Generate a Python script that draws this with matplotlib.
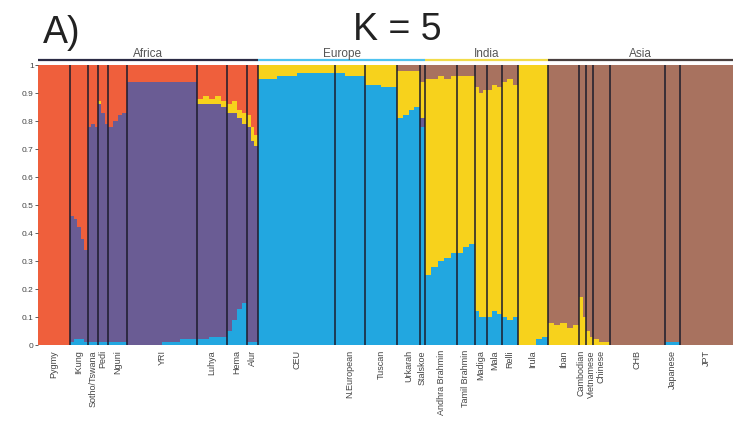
import numpy as np
import matplotlib
matplotlib.use('Agg')
import matplotlib.pyplot as plt

plt.rcParams['font.family'] = ['Liberation Sans', 'DejaVu Sans']

# regions and how many populations each one holds
regions = ['Africa', 'Europe', 'India', 'Asia']
region_npops = [9, 5, 6, 7]

pops = ['Pygmy', '!Kung', 'Sotho/Tswana', 'Pedi', 'Nguni', 'YRI', 'Luhya', 'Hema', 'Alur',
        'CEU', 'N.European', 'Tuscan', 'Urkarah', 'Stalskoe',
        'Andhra Brahmin', 'Tamil Brahmin', 'Madiga', 'Mala', 'Relli', 'Irula',
        'Iban', 'Cambodian', 'Vietnamese', 'Chinese', 'CHB', 'Japanese', 'JPT']
# sample sizes (relative width of each population block)
pop_n = [32, 18, 10, 10, 19, 70, 30, 20, 11,
         77, 30, 32, 23, 5,
         32, 18, 12, 15, 16, 30,
         31, 7, 7, 17, 55, 15, 53]
bars_per_pop = [4, 5, 3, 3, 4, 8, 5, 4, 3,
                8, 3, 4, 4, 1,
                5, 3, 3, 3, 3, 5,
                5, 2, 2, 3, 6, 2, 6]

# ancestry proportions per bar, stacked bottom to top: blue, purple, yellow, brown, orange
blue = [0, 0, 0, 0,
        .01, .02, .02, .02, .01,
        .01, .01, .01,
        .01, .01, .01,
        .01, .01, .01, .01,
        0, 0, 0, 0, .01, .01, .02, .02,
        .02, .02, .03, .03, .03,
        .05, .09, .13, .15,
        .01, .01, .01,
        .95, .95, .96, .96, .97, .97, .97, .97,
        .97, .96, .96,
        .93, .93, .92, .92,
        .81, .82, .84, .85,
        .78,
        .25, .28, .30, .31, .33,
        .33, .35, .36,
        .12, .10, .10,
        .10, .12, .11,
        .10, .09, .10,
        0, 0, 0, .02, .03,
        0, 0, 0, 0, 0,
        0, 0,
        0, 0,
        0, 0, 0,
        0, 0, 0, 0, 0, 0,
        .01, .01,
        0, 0, 0, 0, 0, 0]
purple = [0, 0, 0, 0,
          .45, .43, .40, .36, .33,
          .77, .78, .77,
          .85, .82, .78,
          .77, .79, .81, .82,
          .94, .94, .94, .94, .93, .93, .92, .92,
          .84, .84, .83, .83, .82,
          .78, .74, .68, .64,
          .77, .72, .70,
          0, 0, 0, 0, 0, 0, 0, 0,
          0, 0, 0,
          0, 0, 0, 0,
          0, 0, 0, 0,
          .03,
          0, 0, 0, 0, 0,
          0, 0, 0,
          0, 0, 0,
          0, 0, 0,
          0, 0, 0,
          0, 0, 0, 0, 0,
          0, 0, 0, 0, 0,
          0, 0,
          0, 0,
          0, 0, 0,
          0, 0, 0, 0, 0, 0,
          0, 0,
          0, 0, 0, 0, 0, 0]
yellow = [0, 0, 0, 0,
          0, 0, 0, 0, 0,
          0, 0, 0,
          .01, 0, 0,
          0, 0, 0, 0,
          0, 0, 0, 0, 0, 0, 0, 0,
          .02, .03, .02, .03, .02,
          .03, .04, .03, .04,
          .04, .05, .04,
          .05, .05, .04, .04, .03, .03, .03, .03,
          .03, .04, .04,
          .07, .07, .08, .08,
          .17, .16, .14, .13,
          .13,
          .70, .67, .66, .64, .63,
          .63, .61, .60,
          .80, .80, .81,
          .81, .81, .81,
          .84, .86, .83,
          1, 1, 1, .98, .97,
          .08, .07, .08, .06, .07,
          .17, .10,
          .05, .03,
          .02, .01, .01,
          0, 0, 0, 0, 0, 0,
          0, 0,
          0, 0, 0, 0, 0, 0]
brown = [0, 0, 0, 0,
         0, 0, 0, 0, 0,
         0, 0, 0,
         0, 0, 0,
         0, 0, 0, 0,
         0, 0, 0, 0, 0, 0, 0, 0,
         0, 0, 0, 0, 0,
         0, 0, 0, 0,
         0, 0, 0,
         0, 0, 0, 0, 0, 0, 0, 0,
         0, 0, 0,
         0, 0, 0, 0,
         .02, .02, .02, .02,
         .06,
         .05, .05, .04, .05, .04,
         .04, .04, .04,
         .08, .10, .09,
         .09, .07, .08,
         .06, .05, .07,
         0, 0, 0, 0, 0,
         .92, .93, .92, .94, .93,
         .83, .90,
         .95, .97,
         .98, .99, .99,
         1, 1, 1, 1, 1, 1,
         .99, .99,
         1, 1, 1, 1, 1, 1]

colors = ['#22a7e0', '#6a5c94', '#f7d21c', '#a8725f', '#ef5f3c']

blue = np.array(blue)
purple = np.array(purple)
yellow = np.array(yellow)
brown = np.array(brown)
# orange takes whatever is left of each bar
orange = np.clip(1 - (blue + purple + yellow + brown), 0, None)
layers = [blue, purple, yellow, brown, orange]

# bar positions from the sample sizes
lefts, widths, pop_edges = [], [], [0]
x = 0
for n, nb in zip(pop_n, bars_per_pop):
    w = n / nb
    for j in range(nb):
        lefts.append(x + j * w)
        widths.append(w)
    x += n
    pop_edges.append(x)
lefts = np.array(lefts)
widths = np.array(widths)
pop_edges = np.array(pop_edges)
total = pop_edges[-1]

fig = plt.figure(figsize=(7.37, 4.24), dpi=100)
ax = fig.add_axes([38 / 737, 79 / 424, 695 / 737, 280 / 424])

bottom = np.zeros(len(lefts))
for vals, c in zip(layers, colors):
    ax.bar(lefts, vals, width=widths, bottom=bottom, align='edge',
           color=c, linewidth=0)
    bottom += vals

ax.vlines(pop_edges[1:-1], 0, 1, color='#1c1c2c', lw=1.1)

ax.set_xlim(0, total)
ax.set_ylim(0, 1)
for s in ax.spines.values():
    s.set_visible(False)
ax.set_xticks([])
ax.set_yticks(np.arange(0, 1.01, 0.1))
ax.set_yticklabels(['0', '0.1', '0.2', '0.3', '0.4', '0.5', '0.6', '0.7', '0.8', '0.9', '1'])
ax.tick_params(axis='y', length=2, width=0.6, pad=1, labelsize=6, colors='#444444')

# population labels under the bars (two narrow neighbours pushed apart a little)
nudge = {'Cambodian': -1.8, 'Vietnamese': 1.8}
centers = (pop_edges[:-1] + pop_edges[1:]) / 2
for name, cx in zip(pops, centers):
    ax.text(cx + nudge.get(name, 0), -0.018, name, rotation=90, ha='center', va='top',
            fontsize=6.5, color='#444444', clip_on=False)

# region bars and names above
region_cols = ['#2b2b45', '#4fc3f0', '#f2dc4a', '#4a4040']
k = 0
for name, npop, c in zip(regions, region_npops, region_cols):
    x0 = pop_edges[k]
    x1 = pop_edges[k + npop]
    ax.plot([x0, x1], [1.018, 1.018], color=c, lw=1.6, clip_on=False,
            solid_capstyle='butt')
    ax.text((x0 + x1) / 2, 1.03, name, ha='center', va='baseline',
            fontsize=8.5, color='#555555', clip_on=False)
    k += npop

fig.text(397 / 737, (424 - 40) / 424, 'K = 5', ha='center', va='baseline',
         fontsize=27, color='#222222')
fig.text(43 / 737, (424 - 43) / 424, 'A)', ha='left', va='baseline',
         fontsize=27, color='#222222')

fig.savefig('out.png', dpi=100)
